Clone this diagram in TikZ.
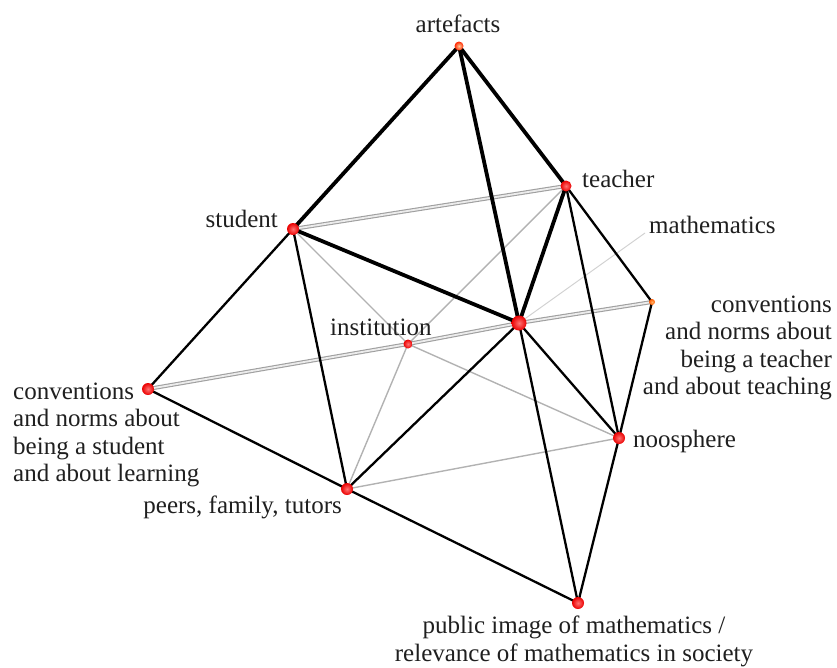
\documentclass[tikz,border=0pt]{standalone}
\usepackage{fontspec}
\setmainfont{Liberation Serif}
\pgfdeclarelayer{bg}
\pgfsetlayers{bg,main}
\begin{document}
\begin{tikzpicture}[x=1pt,y=-1pt,
  lbl/.style={inner sep=0pt, font=\fontsize{25}{27.5}\selectfont, text=black!88},
  dot/.style={circle, inner sep=0pt, minimum size=#1, shading=radial,
    inner color=red!55!white, outer color=red!92!black},
  dot/.default=12pt,
  tube/.style={draw=gray!75, double=gray!15, double distance=1.8pt, line width=1.1pt},
  thinline/.style={draw=gray!60, line width=1.4pt},
  leader/.style={draw=gray!35, line width=1pt},
  edge/.style={draw=black, line width=2.3pt},
  heavy/.style={draw=black, line width=3.8pt},
]
\useasboundingbox (0,0) rectangle (837,667);

% points
\node[dot=9pt, inner color=orange!40!white, outer color=red!70!orange] (A) at (459,46) {};
\node[dot=11pt] (T) at (566,186) {};
\node[dot=12pt] (S) at (293,229) {};
\node[dot=15pt] (M) at (519,323) {};
\node[dot=9pt] (I) at (408,344) {};
\node[dot=6pt, inner color=orange!60!white, outer color=orange!70!red] (CT) at (652,302) {};
\node[dot=12pt] (CS) at (148,389) {};
\node[dot=12pt] (N) at (619,438) {};
\node[dot=12pt] (P) at (347,489) {};
\node[dot=12pt] (Q) at (578,603) {};

% labels
\node[lbl, anchor=base] (lA) at (458,32) {artefacts};
\node[lbl, anchor=base west] (lT) at (582,187) {teacher};
\node[lbl, anchor=base east] (lS) at (278,227) {student};
\node[lbl, anchor=base west] (lM) at (649,233) {mathematics};
\node[lbl, anchor=base west] (lI) at (330,335) {institution};
\node[lbl, anchor=north east, align=right] (lCT) at (832,295.5)
  {conventions\\and norms about\\being a teacher\\and about teaching};
\node[lbl, anchor=north west, align=left] (lCS) at (13,382.5)
  {conventions\\and norms about\\being a student\\and about learning};
\node[lbl, anchor=base west] (lN) at (633,447) {noosphere};
\node[lbl, anchor=base east] (lP) at (342,513) {peers, family, tutors};
\node[lbl, anchor=north, align=center] (lQ) at (574,616)
  {public image of mathematics /\\relevance of mathematics in society};

\begin{pgfonlayer}{bg}
% thin grey lines
\draw[thinline] (S.center) -- (I.center);
\draw[thinline] (T.center) -- (I.center);
\draw[thinline] (I.center) -- (P.center);
\draw[thinline] (I.center) -- (N.center);
\draw[thinline] (P.center) -- (N.center);
\draw[leader] (M.center) -- ([xshift=-4pt]lM.base west);
% grey tubes
\draw[tube] (S.center) -- (T.center);
\draw[tube] (CS.center) -- (I.center) -- (M.center) -- (CT.center);
% black edges
\draw[edge] (S.center) -- (CS.center);
\draw[edge] (S.center) -- (P.center);
\draw[edge] (CS.center) -- (P.center);
\draw[edge] (P.center) -- (Q.center);
\draw[edge] (P.center) -- (M.center);
\draw[edge] (M.center) -- (N.center);
\draw[edge] (M.center) -- (Q.center);
\draw[edge] (T.center) -- (CT.center);
\draw[edge] (T.center) -- (N.center);
\draw[edge] (CT.center) -- (N.center);
\draw[edge] (N.center) -- (Q.center);
% heavy edges
\draw[heavy] (A.center) -- (S.center);
\draw[heavy] (A.center) -- (T.center);
\draw[heavy] (A.center) -- (M.center);
\draw[heavy] (S.center) -- (M.center);
\draw[heavy] (T.center) -- (M.center);
\end{pgfonlayer}
\end{tikzpicture}
\end{document}
